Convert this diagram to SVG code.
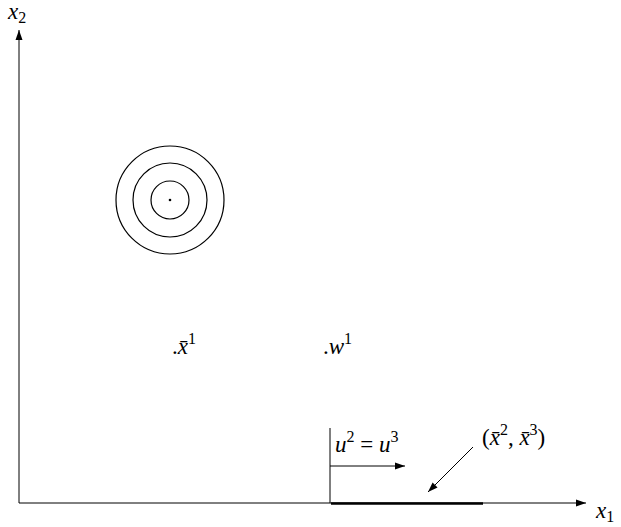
<svg xmlns="http://www.w3.org/2000/svg" width="621" height="527" viewBox="0 0 621 527">
<style>
.ln{stroke:#000;stroke-width:1;fill:none}
.c{stroke:#000;stroke-width:1.2;fill:none}
.t{font-family:"Liberation Serif","DejaVu Serif",serif;font-size:23px;fill:#000}
.i{font-style:italic}
.s{font-size:16px}
</style>
<defs>
<marker id="ah" viewBox="0 0 10 10" refX="10" refY="5" markerWidth="10" markerHeight="10" markerUnits="userSpaceOnUse" orient="auto">
<path d="M0,1.5 L10,5 L0,8.5 Z" fill="#000"/>
</marker>
</defs>
<rect width="621" height="527" fill="#fff"/>
<g id="connectors">
<line class="ln" x1="19" y1="503" x2="19" y2="30" marker-end="url(#ah)"/>
<line class="ln" x1="19" y1="503" x2="586" y2="503" marker-end="url(#ah)"/>
<line class="ln" x1="330" y1="428" x2="330" y2="503"/>
<line class="ln" x1="330" y1="466" x2="405" y2="466" marker-end="url(#ah)"/>
<line x1="331" y1="503.5" x2="483" y2="503.5" stroke="#000" stroke-width="2.5"/>
<line class="ln" x1="473" y1="447" x2="428" y2="492" marker-end="url(#ah)"/>
</g>
<g id="circles">
<circle class="c" cx="170" cy="200" r="19"/>
<circle class="c" cx="170" cy="200" r="37"/>
<circle class="c" cx="170" cy="200" r="54"/>
<circle cx="170" cy="200" r="1.3" fill="#000"/>
</g>
<g id="label-x2"><text class="t" x="8" y="19"><tspan class="i">x</tspan><tspan class="s" dy="4">2</tspan></text></g>
<g id="label-x1"><text class="t" x="596" y="518"><tspan class="i">x</tspan><tspan class="s" dy="4">1</tspan></text></g>
<g id="label-xbar1"><text class="t" x="172" y="354">.<tspan class="i">x̄</tspan><tspan class="s" dy="-10">1</tspan></text></g>
<g id="label-w1"><text class="t" x="323" y="354">.<tspan class="i">w</tspan><tspan class="s" dy="-10">1</tspan></text></g>
<g id="label-u"><text class="t" x="335" y="452"><tspan class="i">u</tspan><tspan class="s" dy="-10">2</tspan><tspan dy="10"> = </tspan><tspan class="i">u</tspan><tspan class="s" dy="-10">3</tspan></text></g>
<g id="label-xbar23"><text class="t" x="482" y="445">(<tspan class="i">x̄</tspan><tspan class="s" dy="-10">2</tspan><tspan dy="10">, </tspan><tspan class="i">x̄</tspan><tspan class="s" dy="-10">3</tspan><tspan dy="10">)</tspan></text></g>
</svg>
